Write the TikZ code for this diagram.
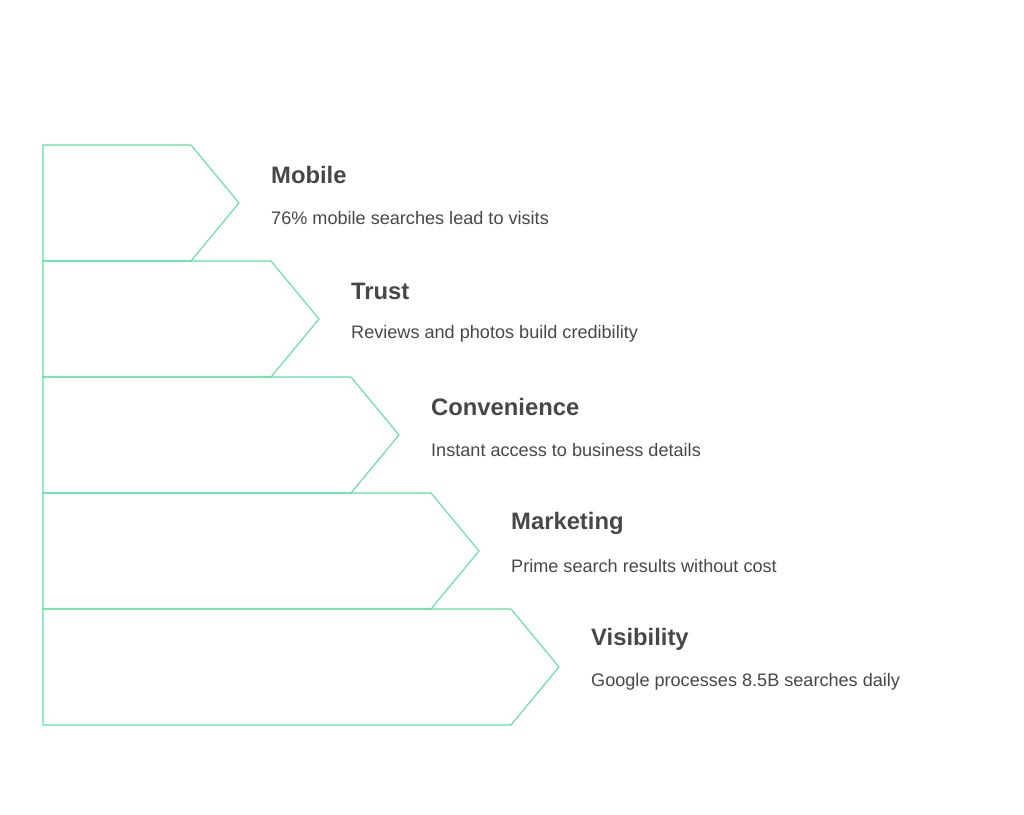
\documentclass[tikz,border=0pt]{standalone}
\usepackage{fontspec}
\setmainfont{Liberation Sans}
\definecolor{edge}{HTML}{5EE0A0}
\definecolor{txt}{HTML}{474747}
\begin{document}
\begin{tikzpicture}[x=1pt,y=-1pt,
  arrowbox/.style={draw=edge,line width=1.1pt,line join=miter},
  ttl/.style={anchor=west,text=txt,font=\fontsize{23.8}{28}\selectfont\bfseries,inner sep=0pt},
  sub/.style={anchor=west,text=txt,font=\fontsize{18.1}{22}\selectfont,inner sep=0pt}]
\useasboundingbox (0,0) rectangle (1024,814);
\foreach \i/\t/\s in {0/Mobile/76\% mobile searches lead to visits,
                      1/Trust/Reviews and photos build credibility,
                      2/Convenience/Instant access to business details,
                      3/Marketing/Prime search results without cost,
                      4/Visibility/Google processes 8.5B searches daily}{
  \pgfmathsetmacro{\top}{145+116*\i}
  \pgfmathsetmacro{\bot}{\top+116}
  \pgfmathsetmacro{\mid}{\top+58}
  \pgfmathsetmacro{\xe}{191+80*\i}
  \pgfmathsetmacro{\xt}{\xe+48}
  \pgfmathsetmacro{\xl}{\xe+80}
  \draw[arrowbox] (43,\top) coordinate (tl\i) -- (\xe,\top) -- (\xt,\mid) coordinate (tip\i) -- (\xe,\bot) -- (43,\bot) -- cycle;
  \node[ttl] (t\i) at (\xl,\top+30) {\t};
  \node[sub] (s\i) at (\xl,\top+73) {\s};
}
\end{tikzpicture}
\end{document}
